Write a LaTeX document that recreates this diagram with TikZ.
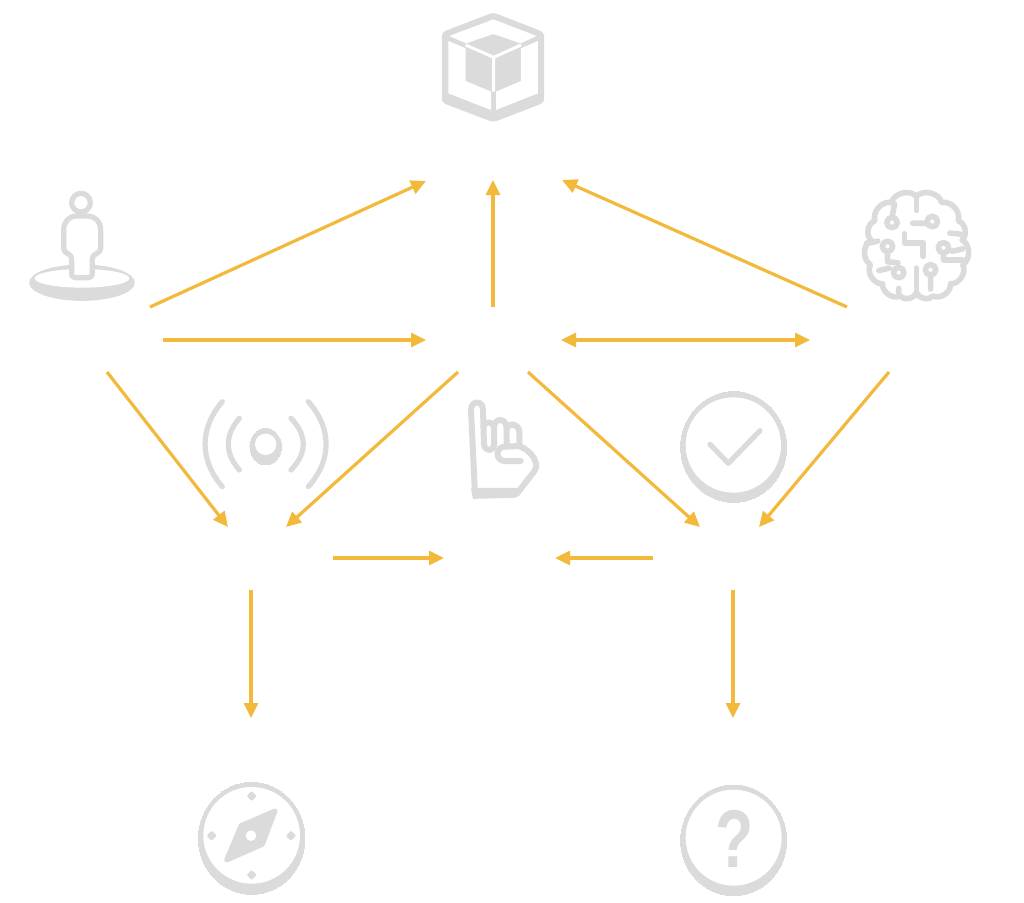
\documentclass[tikz,border=0pt]{standalone}
\usepackage{fontspec}
\newfontfamily\iconfont{Liberation Sans}
\usetikzlibrary{arrows.meta}
\definecolor{flowcol}{HTML}{F2B93B}
\definecolor{iconcol}{HTML}{DBDBDB}
\tikzset{
	flow/.style={color=flowcol,line width=3.2pt},
	>={Triangle[length=15pt,width=14pt]},
	iconline/.style={draw=iconcol,line width=5.2pt,line cap=round,line join=round},
	iconfill/.style={fill=iconcol,draw=iconcol,line width=1pt,line join=round},
	cutout/.style={fill=white,draw=none},
	at zoom/.style={shift={#1},x=0.3333pt,y=-0.3333pt}
}
\begin{document}
\begin{tikzpicture}[x=1pt,y=-1pt]
	\useasboundingbox (0,0) rectangle (1024,902);
	% box
	\begin{scope}[at zoom={(420,0)}]
		\path[iconfill,line width=3pt,rounded corners=3pt] (220,42) -- (368,100) -- (368,305) -- (220,362) -- (70,305) -- (70,100) -- cycle;
		\path[cutout] (88,108) -- (220,58) -- (350,108) -- (302,130) -- (220,102) -- (138,130) -- cycle;
		\path[cutout] (85,123) -- (137,145) -- (137,243) -- (213,275) -- (213,330) -- (85,280) -- cycle;
		\path[cutout] (228,275) -- (303,243) -- (303,145) -- (354,123) -- (354,280) -- (228,330) -- cycle;
		\draw[white,line width=3pt] (137,135) -- (221,172) -- (303,135) (221,172) -- (221,275);
	\end{scope}
	% person on a disk
	\begin{scope}[at zoom={(15,180)}]
		\path[iconfill] (201,308) ellipse [x radius=157,y radius=53];
		\path[cutout] (201,295) ellipse [x radius=142,y radius=28];
		\draw[iconline,fill=white] (198,68) circle [radius=28];
		\draw[iconline,fill=white] (185,108) -- (215,108) .. controls (240,108) and (257,125) .. (257,150) -- (257,205) .. controls (257,225) and (232,215) .. (232,240) -- (232,280) .. controls (232,290) and (225,293) .. (220,293) -- (182,293) .. controls (175,293) and (170,290) .. (170,280) -- (170,240) .. controls (170,215) and (146,225) .. (146,205) -- (146,150) .. controls (146,125) and (162,108) .. (185,108) -- cycle;
	\end{scope}
	% brain
	\begin{scope}[at zoom={(845.5,178.8)},x=0.35pt,y=-0.35pt,iconline/.append style={line width=5.6pt}]
		\draw[iconline] (203,50) to[bend left=60] (275,68) to[bend left=60] (322,120) to[bend left=60] (333,175) to[bend left=60] (335,245) to[bend left=60] (300,300) to[bend left=60] (250,335) to[bend left=60] (203,325) to[bend left=60] (156,335) to[bend left=60] (106,300) to[bend left=60] (71,245) to[bend left=60] (73,175) to[bend left=60] (84,120) to[bend left=60] (131,68) to[bend left=60] (203,50);
		\draw[iconline] (203,50) -- (203,90) (203,325) -- (203,255);
		\draw[iconline] (133,125) circle [radius=15] (133,110) -- (140,72);
		\draw[iconline] (248,122) circle [radius=15] (233,127) -- (192,127);
		\draw[iconline] (120,193) circle [radius=15] (120,208) -- (120,237) -- (150,240);
		\draw[iconline] (152,268) circle [radius=15] (152,313) -- (152,330) (95,262) -- (125,255);
		\draw[iconline] (168,157) -- (168,183) -- (222,183) -- (222,222);
		\draw[iconline] (280,197) circle [radius=15] (280,212) -- (280,232) -- (335,232) (305,207) -- (335,200);
		\draw[iconline] (243,260) circle [radius=15] (243,275) -- (243,315);
		\draw[iconline] (298,155) -- (328,158) (60,185) -- (92,178);
	\end{scope}
	% signal
	\begin{scope}[at zoom={(190,385)}]
		\path[iconfill,line width=0pt] (227,185) ellipse [x radius=47,y radius=55];
		\path[cutout] (227,178) circle [radius=32];
		\draw[iconline] (148,100) .. controls (104,150) and (104,205) .. (148,255);
		\draw[iconline] (97,50) .. controls (28,130) and (28,225) .. (97,305);
		\draw[iconline] (303,100) .. controls (352,150) and (352,205) .. (303,255);
		\draw[iconline] (355,50) .. controls (426,130) and (426,225) .. (355,305);
	\end{scope}
	% hand
	\begin{scope}[at zoom={(450,390)},iconline/.append style={line width=6pt}]
		\path[iconfill] (65,295) -- (205,295) -- (195,322) -- (70,325) -- cycle;
		\draw[iconline] (75,312) -- (63,60) .. controls (63,30) and (99,30) .. (99,60) -- (102,165) .. controls (107,185) and (130,185) .. (132,165);
		\draw[iconline] (100,110) .. controls (105,92) and (130,92) .. (132,115) -- (132,165);
		\draw[iconline] (132,110) .. controls (135,83) and (167,83) .. (170,112) -- (170,165);
		\draw[iconline] (170,115) .. controls (175,98) and (205,98) .. (208,125) -- (208,168);
		\draw[iconline] (212,213) -- (165,213) .. controls (135,213) and (135,170) .. (165,170) -- (208,168) .. controls (250,185) and (270,225) .. (252,245) -- (200,312) -- (75,312);
	\end{scope}
	% check
	\begin{scope}[at zoom={(670,385)}]
		\path[iconfill,line width=0pt] (191,186) ellipse [x radius=159,y radius=166];
		\path[cutout] (190,180) circle [radius=143];
		\draw[iconline] (120,178) -- (175,235) -- (270,137);
	\end{scope}
	% compass
	\begin{scope}[at zoom={(185,775)}]
		\path[iconfill,line width=0pt] (200,190) ellipse [x radius=160,y radius=168];
		\path[cutout] (200,181) circle [radius=145];
		\path[iconfill,line width=5pt] (270,108) -- (168,152) -- (125,255) -- (232,208) -- cycle;
		\path[cutout] (198,182) circle [radius=16];
		\foreach \px/\py in {200/63,80/182,318/182,200/300}
			\path[iconfill,line width=2pt] (\px,\py-11) -- (\px+11,\py) -- (\px,\py+11) -- (\px-11,\py) -- cycle;
	\end{scope}
	% question
	\begin{scope}[at zoom={(670,775)}]
		\path[iconfill,line width=0pt] (191,196) ellipse [x radius=159,y radius=166];
		\path[cutout] (191,188) circle [radius=144];
		\node[text=iconcol,font=\iconfont\bfseries\fontsize{78}{78}\selectfont,inner sep=0pt,xscale=.8,yscale=1.05] (qmark) at (193,193) {?};
	\end{scope}
	% ends of the arrows
	\coordinate (boxL) at (426,181);
	\coordinate (boxC) at (493,180);
	\coordinate (boxR) at (562,180);
	\coordinate (personA) at (150,307);
	\coordinate (personB) at (163,340);
	\coordinate (personC) at (107,372);
	\coordinate (brainA) at (847,307);
	\coordinate (brainB) at (810,340);
	\coordinate (brainC) at (889,372);
	\coordinate (handT) at (493,307);
	\coordinate (handL) at (426,340);
	\coordinate (handR) at (561,340);
	\coordinate (handA) at (458,372);
	\coordinate (handB) at (528,372);
	\coordinate (signalA) at (228,527);
	\coordinate (signalB) at (286,527);
	\coordinate (signalR) at (333,558);
	\coordinate (signalD) at (251,590);
	\coordinate (checkA) at (700,527);
	\coordinate (checkB) at (759,527);
	\coordinate (checkL) at (653,558);
	\coordinate (checkD) at (733,590);
	\coordinate (midL) at (444,558);
	\coordinate (midR) at (555,558);
	\coordinate (compassT) at (251,718);
	\coordinate (questionT) at (733,718);
	\path[flow,->]
	(personA) edge (boxL)
	(handT) edge (boxC)
	(brainA) edge (boxR)
	(personB) edge (handL)
	(personC) edge (signalA)
	(handA) edge (signalB)
	(handB) edge (checkA)
	(brainC) edge (checkB)
	(signalR) edge (midL)
	(checkL) edge (midR)
	(signalD) edge (compassT)
	(checkD) edge (questionT)
	(handR) edge[<->] (brainB);
\end{tikzpicture}
\end{document}
